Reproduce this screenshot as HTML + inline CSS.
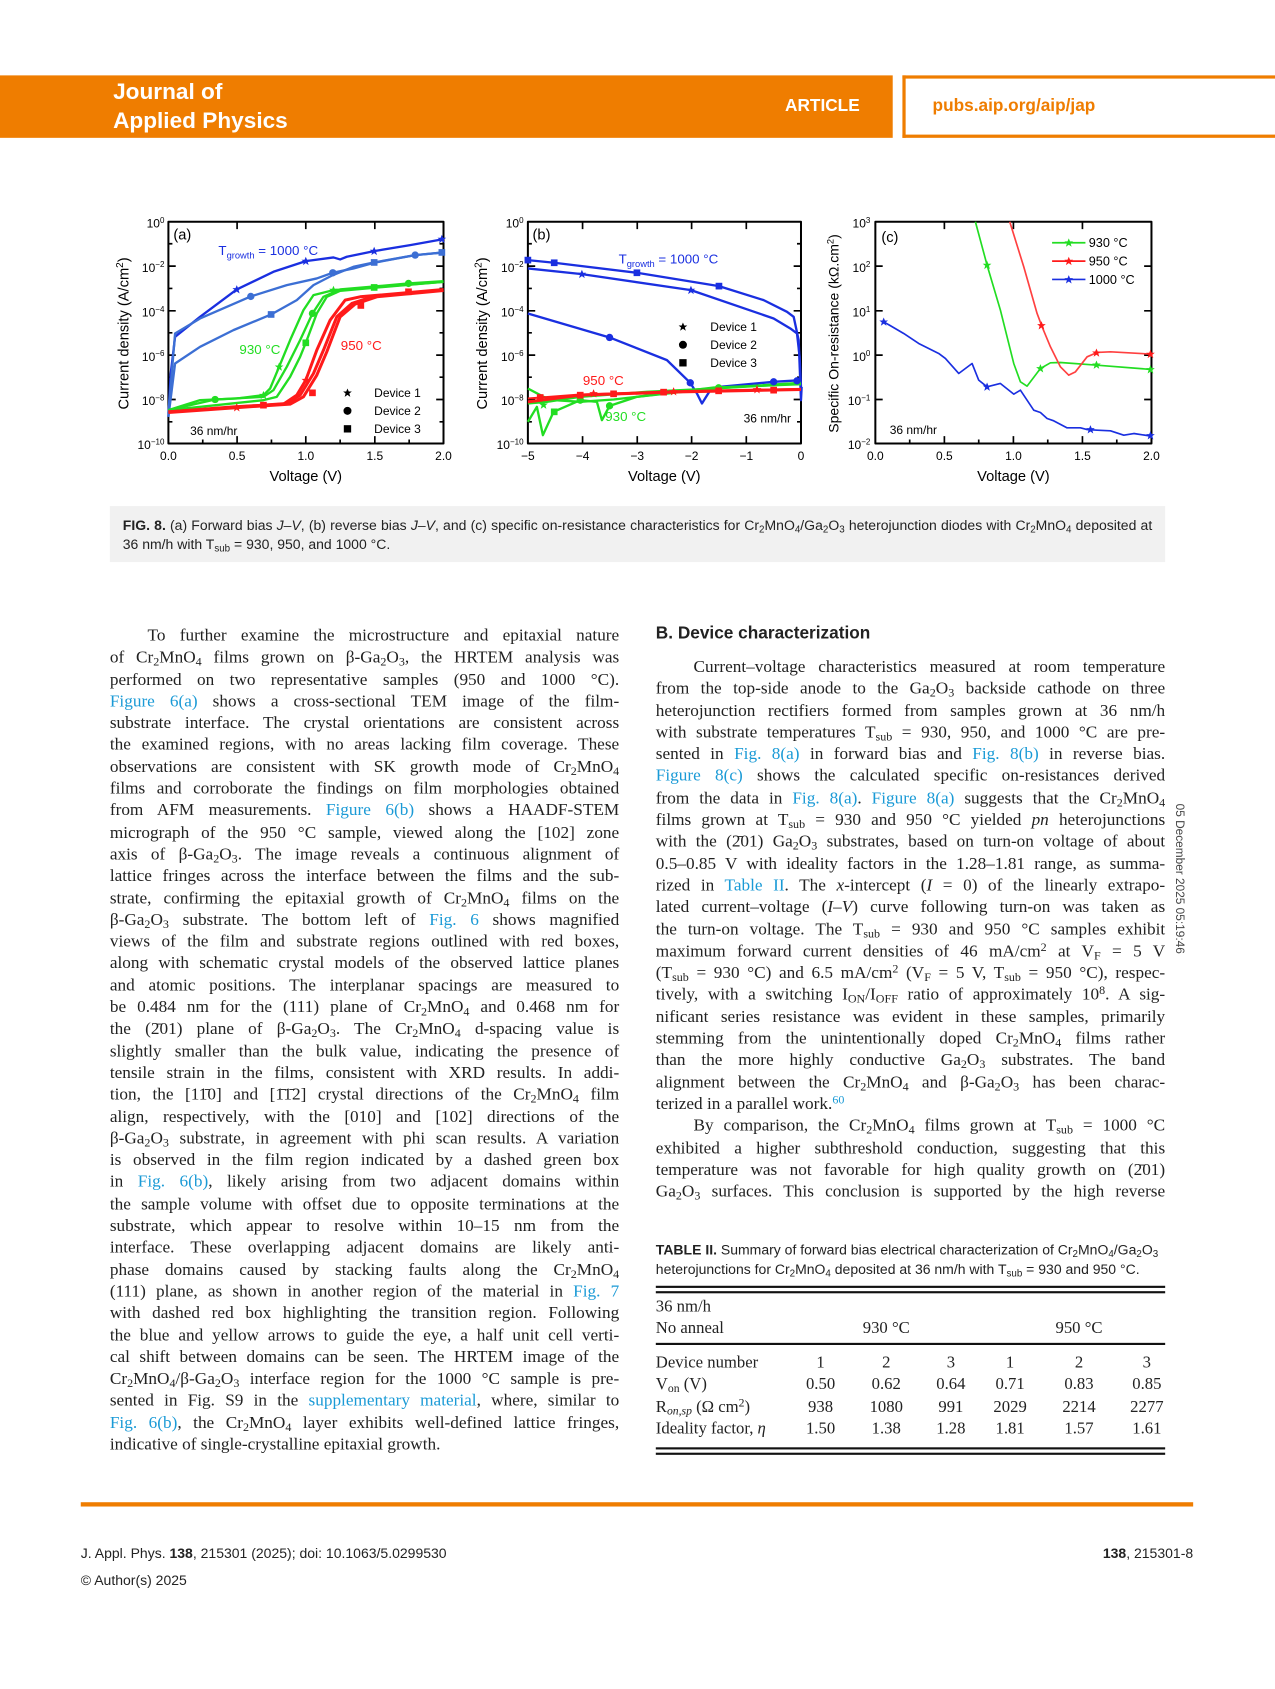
<!DOCTYPE html>
<html><head><meta charset="utf-8">
<style>
html,body{margin:0;padding:0;background:#fff;}
body{width:1275px;height:1688px;overflow:hidden;position:relative;}
#w{position:absolute;left:0;top:0;width:1184px;height:1568px;transform:scale(1.07686);transform-origin:0 0;}
.a{position:absolute;}
.sans{font-family:"Liberation Sans",sans-serif;}
.serif{font-family:"Liberation Serif",serif;}
.col{position:absolute;width:473px;font-family:"Liberation Serif",serif;font-size:16px;line-height:20.3px;color:#222;}
.col div{white-space:nowrap;text-align:justify;text-align-last:justify;height:20.3px;}
.col div.l{text-align-last:left;}
.col div.i{text-indent:35px;}
sub{font-size:70%;vertical-align:-0.25em;line-height:0;}
sup{font-size:70%;vertical-align:0.45em;line-height:0;}
.k{color:#1a9ad6;}
.tb{position:absolute;font-family:"Liberation Serif",serif;font-size:15.5px;color:#222;}
.c{position:absolute;width:60px;text-align:center;}
</style></head><body><div id="w">

<!-- header -->
<div class="a" style="left:0;top:70px;width:829px;height:58px;background:#ef7d00;"></div>
<div class="a sans" style="left:105px;top:72px;color:#fff;font-size:21px;font-weight:bold;line-height:27px;">Journal of<br>Applied Physics</div>
<div class="a sans" style="left:729px;top:90px;color:#fff;font-size:16px;font-weight:bold;">ARTICLE</div>
<div class="a" style="left:838px;top:70px;width:346px;height:52px;border:3px solid #ef7d00;border-right:none;"></div>
<div class="a sans" style="left:866px;top:90px;color:#ef7d00;font-size:16px;font-weight:bold;">pubs.aip.org/aip/jap</div>

<!-- figure -->
<svg class="a" style="left:0;top:0" width="1184" height="470" viewBox="0 0 1184 470" font-family="Liberation Sans, sans-serif">
<defs>
<polygon id="st" points="0,-13 3.8,-4 13,-4 5.6,2 8.5,12 0,6 -8.5,12 -5.6,2 -13,-4 -3.8,-4"/>
</defs>
<g fill="none" stroke-linejoin="round">
<!-- Panel a -->
<g transform="translate(92.9,185.8) scale(0.30967)">
<rect x="205" y="65" width="825" height="665" stroke="#000" stroke-width="6"/>
<g stroke="#000" stroke-width="5">
<path d="M205,198h22M205,332h22M205,465h22M205,598h22M1030,198h-22M1030,332h-22M1030,465h-22M1030,598h-22M205,131h12M205,265h12M205,398h12M205,531h12M205,665h12M1030,131h-12M1030,265h-12M1030,398h-12M1030,531h-12M1030,665h-12M411,730v-22M617,730v-22M824,730v-22M411,65v22M617,65v22M824,65v22M308,730v-12M514,730v-12M720,730v-12M927,730v-12"/>
</g>
<g stroke-width="7">
<polyline stroke="#1a2fe0" points="205,650 212,520 225,410 300,350 410,268 520,215 617,183 700,172 720,178 740,170 822,153 930,135 1030,117"/>
<polyline stroke="#3c6fd4" points="205,640 225,400 300,355 452,289 560,255 650,235 698,218 760,205 822,188 945,165 1030,157"/>
<polyline stroke="#3c6fd4" points="205,650 225,490 300,440 400,390 513,343 590,300 640,255 698,225 760,200 822,187 945,165 1030,157"/>
<polyline stroke="#22dd22" points="205,630 300,600 410,595 490,585 510,565 537,500 570,420 610,330 640,285 700,270 820,262 1030,245"/>
<polyline stroke="#22dd22" points="205,630 345,598 490,590 520,570 560,500 600,420 637,340 670,290 720,268 925,250 1030,243"/>
<polyline stroke="#22dd22" points="205,630 490,600 530,590 570,530 600,470 617,428 650,340 680,290 720,272 1030,245"/>
<polyline stroke="#ff1a1a" stroke-width="9" points="205,635 400,620 550,612 590,585 617,540 650,450 690,360 735,300 780,290 1030,268"/>
<polyline stroke="#ff1a1a" stroke-width="9" points="205,635 490,615 560,610 600,585 640,520 670,450 710,350 755,310 822,288 1030,270"/>
<polyline stroke="#ff1a1a" stroke-width="9" points="205,637 490,617 570,612 610,590 650,525 680,455 720,350 765,312 830,290 1030,271"/>
</g>
<g stroke="none">
<use href="#st" x="410" y="268" fill="#1a2fe0"/><use href="#st" x="617" y="183" fill="#1a2fe0"/><use href="#st" x="822" y="153" fill="#1a2fe0"/><use href="#st" x="1025" y="117" fill="#1a2fe0"/>
<circle cx="452" cy="289" r="11" fill="#3c6fd4"/><circle cx="698" cy="218" r="11" fill="#3c6fd4"/><circle cx="945" cy="165" r="11" fill="#3c6fd4"/>
<rect x="503" y="333" width="20" height="20" fill="#3c6fd4"/><rect x="812" y="177" width="20" height="20" fill="#3c6fd4"/><rect x="1015" y="147" width="20" height="20" fill="#3c6fd4"/>
<use href="#st" x="537" y="500" fill="#22dd22"/><use href="#st" x="490" y="585" fill="#22dd22"/><use href="#st" x="700" y="270" fill="#22dd22"/>
<circle cx="345" cy="598" r="11" fill="#22dd22"/><circle cx="637" cy="340" r="11" fill="#22dd22"/><circle cx="925" cy="250" r="11" fill="#22dd22"/>
<rect x="607" y="418" width="20" height="20" fill="#22dd22"/><rect x="812" y="252" width="20" height="20" fill="#22dd22"/>
<use href="#st" x="617" y="540" fill="#ff1a1a"/><use href="#st" x="410" y="622" fill="#ff1a1a"/>
<rect x="627" y="568" width="20" height="20" fill="#ff1a1a"/><rect x="480" y="605" width="20" height="20" fill="#ff1a1a"/><rect x="772" y="306" width="20" height="20" fill="#ff1a1a"/><rect x="915" y="265" width="20" height="20" fill="#ff1a1a"/>
<use href="#st" x="742" y="578" fill="#000"/><circle cx="742" cy="632" r="12" fill="#000"/><rect x="731" y="675" width="22" height="22" fill="#000"/>
</g>
<g stroke="none" fill="#000" font-size="36">
<text x="193" y="82" text-anchor="end">10<tspan font-size="24" dy="-14">0</tspan></text>
<text x="193" y="215" text-anchor="end">10<tspan font-size="24" dy="-14">−2</tspan></text>
<text x="193" y="349" text-anchor="end">10<tspan font-size="24" dy="-14">−4</tspan></text>
<text x="193" y="482" text-anchor="end">10<tspan font-size="24" dy="-14">−6</tspan></text>
<text x="193" y="615" text-anchor="end">10<tspan font-size="24" dy="-14">−8</tspan></text>
<text x="193" y="747" text-anchor="end">10<tspan font-size="24" dy="-14">−10</tspan></text>
<text x="205" y="780" text-anchor="middle">0.0</text><text x="411" y="780" text-anchor="middle">0.5</text><text x="617" y="780" text-anchor="middle">1.0</text><text x="824" y="780" text-anchor="middle">1.5</text><text x="1030" y="780" text-anchor="middle">2.0</text>
<text x="617" y="842" text-anchor="middle" font-size="44">Voltage (V)</text>
<text transform="translate(85,400) rotate(-90)" text-anchor="middle" font-size="44">Current density (A/cm<tspan font-size="30" dy="-16">2</tspan><tspan dy="16">)</tspan></text>
<text x="220" y="118" font-size="44">(a)</text>
<text x="355" y="165" font-size="40" fill="#1a2fe0">T<tspan font-size="28" dy="10">growth</tspan><tspan dy="-10"> = 1000 °C</tspan></text>
<text x="418" y="462" font-size="40" fill="#22dd22">930 °C</text>
<text x="722" y="450" font-size="40" fill="#ff1a1a">950 °C</text>
<text x="822" y="590" font-size="36">Device 1</text><text x="822" y="644" font-size="36">Device 2</text><text x="822" y="698" font-size="36">Device 3</text>
<text x="270" y="705">36 nm/hr</text>
</g>
</g>

<!-- Panel b -->
<g transform="translate(445.92,185.8) scale(0.30967)">
<rect x="143" y="65" width="819" height="665" stroke="#000" stroke-width="6"/>
<g stroke="#000" stroke-width="5">
<path d="M143,198h22M143,332h22M143,465h22M143,598h22M962,198h-22M962,332h-22M962,465h-22M962,598h-22M143,131h12M143,265h12M143,398h12M143,531h12M143,665h12M962,131h-12M962,265h-12M962,398h-12M962,531h-12M962,665h-12M307,730v-22M471,730v-22M634,730v-22M798,730v-22M307,65v22M471,65v22M634,65v22M798,65v22"/>
</g>
<g stroke-width="7">
<polyline stroke="#1a2fe0" points="143,180 222,188 470,218 716,258 850,300 920,335 940,350 955,420 962,600 964,560"/>
<polyline stroke="#1a2fe0" points="143,205 305,222 632,270 880,355 930,385 950,400 958,470 962,560"/>
<polyline stroke="#1a2fe0" points="143,340 388,412 560,480 630,548 650,580 665,610 690,570 720,560 880,545 962,540"/>
<polyline stroke="#22dd22" points="143,565 190,590 225,600 300,605 400,598 470,590 700,565 962,550"/>
<polyline stroke="#22dd22" points="143,665 170,620 188,705 220,635 300,600 350,605 365,660 388,617 470,590 700,562 962,552"/>
<polyline stroke="#22dd22" points="143,610 200,605 300,590 500,575 700,565 962,548"/>
<polyline stroke="#ff1a1a" stroke-width="9" points="143,605 300,585 600,575 962,568"/>
<polyline stroke="#ff1a1a" stroke-width="6" points="143,595 300,583 600,573 962,566"/>
</g>
<g stroke="none">
<rect x="133" y="170" width="20" height="20" fill="#1a2fe0"/><rect x="212" y="178" width="20" height="20" fill="#1a2fe0"/><rect x="460" y="208" width="20" height="20" fill="#1a2fe0"/><rect x="706" y="248" width="20" height="20" fill="#1a2fe0"/>
<use href="#st" x="305" y="222" fill="#1a2fe0"/><use href="#st" x="632" y="270" fill="#1a2fe0"/>
<circle cx="388" cy="412" r="11" fill="#1a2fe0"/><circle cx="630" cy="548" r="11" fill="#1a2fe0"/><circle cx="880" cy="545" r="11" fill="#1a2fe0"/><circle cx="950" cy="542" r="11" fill="#1a2fe0"/>
<use href="#st" x="190" y="614" fill="#22dd22"/><rect x="212" y="625" width="20" height="20" fill="#22dd22"/><circle cx="300" cy="600" r="11" fill="#22dd22"/><circle cx="388" cy="617" r="11" fill="#22dd22"/><circle cx="715" cy="563" r="11" fill="#22dd22"/>
<rect x="170" y="582" width="20" height="20" fill="#ff1a1a"/><rect x="290" y="575" width="20" height="20" fill="#ff1a1a"/><rect x="390" y="571" width="20" height="20" fill="#ff1a1a"/><rect x="540" y="566" width="20" height="20" fill="#ff1a1a"/><rect x="705" y="562" width="20" height="20" fill="#ff1a1a"/><rect x="870" y="560" width="20" height="20" fill="#ff1a1a"/>
<use href="#st" x="340" y="580" fill="#ff1a1a"/><use href="#st" x="580" y="574" fill="#ff1a1a"/><use href="#st" x="830" y="568" fill="#ff1a1a"/>
<use href="#st" x="608" y="380" fill="#000"/><circle cx="608" cy="434" r="12" fill="#000"/><rect x="597" y="477" width="22" height="22" fill="#000"/>
</g>
<g stroke="none" fill="#000" font-size="36">
<text x="130" y="82" text-anchor="end">10<tspan font-size="24" dy="-14">0</tspan></text>
<text x="130" y="215" text-anchor="end">10<tspan font-size="24" dy="-14">−2</tspan></text>
<text x="130" y="349" text-anchor="end">10<tspan font-size="24" dy="-14">−4</tspan></text>
<text x="130" y="482" text-anchor="end">10<tspan font-size="24" dy="-14">−6</tspan></text>
<text x="130" y="615" text-anchor="end">10<tspan font-size="24" dy="-14">−8</tspan></text>
<text x="130" y="747" text-anchor="end">10<tspan font-size="24" dy="-14">−10</tspan></text>
<text x="143" y="780" text-anchor="middle">−5</text><text x="307" y="780" text-anchor="middle">−4</text><text x="471" y="780" text-anchor="middle">−3</text><text x="634" y="780" text-anchor="middle">−2</text><text x="798" y="780" text-anchor="middle">−1</text><text x="962" y="780" text-anchor="middle">0</text>
<text x="552" y="842" text-anchor="middle" font-size="44">Voltage (V)</text>
<text transform="translate(20,400) rotate(-90)" text-anchor="middle" font-size="44">Current density (A/cm<tspan font-size="30" dy="-16">2</tspan><tspan dy="16">)</tspan></text>
<text x="157" y="118" font-size="44">(b)</text>
<text x="415" y="190" font-size="40" fill="#1a2fe0">T<tspan font-size="28" dy="10">growth</tspan><tspan dy="-10"> = 1000 °C</tspan></text>
<text x="308" y="555" font-size="40" fill="#ff1a1a">950 °C</text>
<text x="375" y="662" font-size="40" fill="#22dd22">930 °C</text>
<text x="690" y="392">Device 1</text><text x="690" y="446">Device 2</text><text x="690" y="500">Device 3</text>
<text x="790" y="667">36 nm/hr</text>
</g>
</g>

<!-- Panel c -->
<g transform="translate(761.78,185.8) scale(0.30967)">
<rect x="165" y="65" width="828" height="665" stroke="#000" stroke-width="6"/>
<g stroke="#000" stroke-width="5">
<path d="M165,198h22M165,332h22M165,465h22M165,598h22M993,198h-22M993,332h-22M993,465h-22M993,598h-22M372,730v-22M579,730v-22M786,730v-22M372,65v22M579,65v22M786,65v22M268,730v-12M475,730v-12M682,730v-12M889,730v-12"/>
</g>
<g stroke-width="5">
<polyline stroke="#1a2fe0" points="190,365 250,400 295,430 355,460 375,475 415,520 455,490 475,540 500,560 540,550 580,582 600,570 640,630 660,637 680,655 700,662 740,683 780,683 800,688 830,690 870,692 910,705 940,700 993,708"/>
<polyline stroke="#22dd22" points="465,65 500,195 540,330 580,490 600,545 620,558 660,505 690,488 720,487 830,495 993,508"/>
<polyline stroke="#ff4040" points="568,65 610,200 650,340 665,380 690,440 720,500 745,525 765,515 800,470 830,457 870,455 993,462"/>
<path d="M695,128h100" stroke="#22dd22"/><path d="M695,183h100" stroke="#ff1a1a"/><path d="M695,238h100" stroke="#1a2fe0"/>
</g>
<g stroke="none">
<use href="#st" x="745" y="128" fill="#22dd22"/><use href="#st" x="745" y="183" fill="#ff1a1a"/><use href="#st" x="745" y="238" fill="#1a2fe0"/>
<use href="#st" x="190" y="365" fill="#1a2fe0"/><use href="#st" x="500" y="560" fill="#1a2fe0"/><use href="#st" x="810" y="688" fill="#1a2fe0"/><use href="#st" x="990" y="706" fill="#1a2fe0"/>
<use href="#st" x="500" y="195" fill="#22dd22"/><use href="#st" x="660" y="505" fill="#22dd22"/><use href="#st" x="828" y="494" fill="#22dd22"/><use href="#st" x="990" y="508" fill="#22dd22"/>
<use href="#st" x="663" y="376" fill="#ff1a1a"/><use href="#st" x="828" y="458" fill="#ff1a1a"/><use href="#st" x="990" y="462" fill="#ff1a1a"/>
</g>
<g stroke="none" fill="#000" font-size="36">
<text x="150" y="82" text-anchor="end">10<tspan font-size="24" dy="-14">3</tspan></text>
<text x="150" y="215" text-anchor="end">10<tspan font-size="24" dy="-14">2</tspan></text>
<text x="150" y="349" text-anchor="end">10<tspan font-size="24" dy="-14">1</tspan></text>
<text x="150" y="482" text-anchor="end">10<tspan font-size="24" dy="-14">0</tspan></text>
<text x="150" y="615" text-anchor="end">10<tspan font-size="24" dy="-14">−1</tspan></text>
<text x="150" y="747" text-anchor="end">10<tspan font-size="24" dy="-14">−2</tspan></text>
<text x="165" y="780" text-anchor="middle">0.0</text><text x="372" y="780" text-anchor="middle">0.5</text><text x="579" y="780" text-anchor="middle">1.0</text><text x="786" y="780" text-anchor="middle">1.5</text><text x="993" y="780" text-anchor="middle">2.0</text>
<text x="579" y="842" text-anchor="middle" font-size="44">Voltage (V)</text>
<text transform="translate(55,400) rotate(-90)" text-anchor="middle" font-size="42">Specific On-resistance (kΩ.cm<tspan font-size="28" dy="-16">2</tspan><tspan dy="16">)</tspan></text>
<text x="183" y="125" font-size="44">(c)</text>
<text x="805" y="141" font-size="38">930 °C</text><text x="805" y="196" font-size="38">950 °C</text><text x="805" y="251" font-size="38">1000 °C</text>
<text x="208" y="702">36 nm/hr</text>
</g>
</g>
</g>
</svg>

<!-- caption -->
<div class="a" style="left:102px;top:470px;width:980px;height:52px;background:#f1f1f1;"></div>
<div class="a sans" style="left:114px;top:479px;width:956px;font-size:13px;line-height:18px;color:#222;text-align:justify;text-align-last:justify;white-space:nowrap;"><b>FIG. 8.</b> (a) Forward bias <i>J–V</i>, (b) reverse bias <i>J–V</i>, and (c) specific on-resistance characteristics for Cr<sub>2</sub>MnO<sub>4</sub>/Ga<sub>2</sub>O<sub>3</sub> heterojunction diodes with Cr<sub>2</sub>MnO<sub>4</sub> deposited at</div>
<div class="a sans" style="left:114px;top:497px;font-size:13px;line-height:18px;color:#222;">36 nm/h with T<sub>sub</sub> = 930, 950, and 1000 °C.</div>

<!-- left column -->
<div class="col" style="left:102px;top:581px;">
<div class="i">To further examine the microstructure and epitaxial nature</div>
<div>of Cr<sub>2</sub>MnO<sub>4</sub> films grown on β-Ga<sub>2</sub>O<sub>3</sub>, the HRTEM analysis was</div>
<div>performed on two representative samples (950 and 1000 °C).</div>
<div><span class="k">Figure 6(a)</span> shows a cross-sectional TEM image of the film-</div>
<div>substrate interface. The crystal orientations are consistent across</div>
<div>the examined regions, with no areas lacking film coverage. These</div>
<div>observations are consistent with SK growth mode of Cr<sub>2</sub>MnO<sub>4</sub></div>
<div>films and corroborate the findings on film morphologies obtained</div>
<div>from AFM measurements. <span class="k">Figure 6(b)</span> shows a HAADF-STEM</div>
<div>micrograph of the 950 °C sample, viewed along the [102] zone</div>
<div>axis of β-Ga<sub>2</sub>O<sub>3</sub>. The image reveals a continuous alignment of</div>
<div>lattice fringes across the interface between the films and the sub-</div>
<div>strate, confirming the epitaxial growth of Cr<sub>2</sub>MnO<sub>4</sub> films on the</div>
<div>β-Ga<sub>2</sub>O<sub>3</sub> substrate. The bottom left of <span class="k">Fig. 6</span> shows magnified</div>
<div>views of the film and substrate regions outlined with red boxes,</div>
<div>along with schematic crystal models of the observed lattice planes</div>
<div>and atomic positions. The interplanar spacings are measured to</div>
<div>be 0.484 nm for the (111) plane of Cr<sub>2</sub>MnO<sub>4</sub> and 0.468 nm for</div>
<div>the (2̄01) plane of β-Ga<sub>2</sub>O<sub>3</sub>. The Cr<sub>2</sub>MnO<sub>4</sub> d-spacing value is</div>
<div>slightly smaller than the bulk value, indicating the presence of</div>
<div>tensile strain in the films, consistent with XRD results. In addi-</div>
<div>tion, the [11̄0] and [1̄1̄2] crystal directions of the Cr<sub>2</sub>MnO<sub>4</sub> film</div>
<div>align, respectively, with the [010] and [102] directions of the</div>
<div>β-Ga<sub>2</sub>O<sub>3</sub> substrate, in agreement with phi scan results. A variation</div>
<div>is observed in the film region indicated by a dashed green box</div>
<div>in <span class="k">Fig. 6(b)</span>, likely arising from two adjacent domains within</div>
<div>the sample volume with offset due to opposite terminations at the</div>
<div>substrate, which appear to resolve within 10–15 nm from the</div>
<div>interface. These overlapping adjacent domains are likely anti-</div>
<div>phase domains caused by stacking faults along the Cr<sub>2</sub>MnO<sub>4</sub></div>
<div>(111) plane, as shown in another region of the material in <span class="k">Fig. 7</span></div>
<div>with dashed red box highlighting the transition region. Following</div>
<div>the blue and yellow arrows to guide the eye, a half unit cell verti-</div>
<div>cal shift between domains can be seen. The HRTEM image of the</div>
<div>Cr<sub>2</sub>MnO<sub>4</sub>/β-Ga<sub>2</sub>O<sub>3</sub> interface region for the 1000 °C sample is pre-</div>
<div>sented in Fig. S9 in the <span class="k">supplementary material</span>, where, similar to</div>
<div><span class="k">Fig. 6(b)</span>, the Cr<sub>2</sub>MnO<sub>4</sub> layer exhibits well-defined lattice fringes,</div>
<div class="l">indicative of single-crystalline epitaxial growth.</div>
</div>

<!-- right column -->
<div class="a sans" style="left:609px;top:580px;font-size:16px;font-weight:bold;color:#222;">B. Device characterization</div>
<div class="col" style="left:609px;top:610px;">
<div class="i">Current–voltage characteristics measured at room temperature</div>
<div>from the top-side anode to the Ga<sub>2</sub>O<sub>3</sub> backside cathode on three</div>
<div>heterojunction rectifiers formed from samples grown at 36 nm/h</div>
<div>with substrate temperatures T<sub>sub</sub> = 930, 950, and 1000 °C are pre-</div>
<div>sented in <span class="k">Fig. 8(a)</span> in forward bias and <span class="k">Fig. 8(b)</span> in reverse bias.</div>
<div><span class="k">Figure 8(c)</span> shows the calculated specific on-resistances derived</div>
<div>from the data in <span class="k">Fig. 8(a)</span>. <span class="k">Figure 8(a)</span> suggests that the Cr<sub>2</sub>MnO<sub>4</sub></div>
<div>films grown at T<sub>sub</sub> = 930 and 950 °C yielded <i>pn</i> heterojunctions</div>
<div>with the (2̄01) Ga<sub>2</sub>O<sub>3</sub> substrates, based on turn-on voltage of about</div>
<div>0.5–0.85 V with ideality factors in the 1.28–1.81 range, as summa-</div>
<div>rized in <span class="k">Table II</span>. The <i>x</i>-intercept (<i>I</i> = 0) of the linearly extrapo-</div>
<div>lated current–voltage (<i>I–V</i>) curve following turn-on was taken as</div>
<div>the turn-on voltage. The T<sub>sub</sub> = 930 and 950 °C samples exhibit</div>
<div>maximum forward current densities of 46 mA/cm<sup>2</sup> at V<sub>F</sub> = 5 V</div>
<div>(T<sub>sub</sub> = 930 °C) and 6.5 mA/cm<sup>2</sup> (V<sub>F</sub> = 5 V, T<sub>sub</sub> = 950 °C), respec-</div>
<div>tively, with a switching I<sub>ON</sub>/I<sub>OFF</sub> ratio of approximately 10<sup>8</sup>. A sig-</div>
<div>nificant series resistance was evident in these samples, primarily</div>
<div>stemming from the unintentionally doped Cr<sub>2</sub>MnO<sub>4</sub> films rather</div>
<div>than the more highly conductive Ga<sub>2</sub>O<sub>3</sub> substrates. The band</div>
<div>alignment between the Cr<sub>2</sub>MnO<sub>4</sub> and β-Ga<sub>2</sub>O<sub>3</sub> has been charac-</div>
<div class="l">terized in a parallel work.<sup class="k">60</sup></div>
<div class="i">By comparison, the Cr<sub>2</sub>MnO<sub>4</sub> films grown at T<sub>sub</sub> = 1000 °C</div>
<div>exhibited a higher subthreshold conduction, suggesting that this</div>
<div>temperature was not favorable for high quality growth on (2̄01)</div>
<div>Ga<sub>2</sub>O<sub>3</sub> surfaces. This conclusion is supported by the high reverse</div>
</div>

<!-- side stamp -->
<div class="a sans" style="left:1020px;top:810px;width:150px;font-size:11px;color:#444;transform:rotate(90deg);text-align:center;">05 December 2025 05:19:46</div>

<!-- table -->
<div class="a sans" style="left:609px;top:1152px;font-size:13px;line-height:18px;color:#222;width:473px;"><b>TABLE II.</b> Summary of forward bias electrical characterization of Cr<sub>2</sub>MnO<sub>4</sub>/Ga<sub>2</sub>O<sub>3</sub><br>heterojunctions for Cr<sub>2</sub>MnO<sub>4</sub> deposited at 36 nm/h with T<sub>sub</sub> = 930 and 950 °C.</div>
<div class="a" style="left:609px;top:1194px;width:473px;height:2px;background:#111;"></div>
<div class="a" style="left:609px;top:1199px;width:473px;height:2px;background:#111;"></div>
<div class="tb" style="left:609px;top:1205px;">36 nm/h</div>
<div class="tb" style="left:609px;top:1225px;">No anneal</div>
<div class="tb c" style="left:793px;top:1225px;">930 °C</div>
<div class="tb c" style="left:972px;top:1225px;">950 °C</div>
<div class="a" style="left:609px;top:1247px;width:473px;height:1.5px;background:#111;"></div>
<div class="tb" style="left:609px;top:1256px;line-height:20.3px;">Device number<br>V<sub>on</sub> (V)<br>R<sub><i>on,sp</i></sub> (Ω cm<sup>2</sup>)<br>Ideality factor, <i>η</i></div>
<div class="tb c" style="left:732px;top:1256px;line-height:20.3px;">1<br>0.50<br>938<br>1.50</div>
<div class="tb c" style="left:793px;top:1256px;line-height:20.3px;">2<br>0.62<br>1080<br>1.38</div>
<div class="tb c" style="left:853px;top:1256px;line-height:20.3px;">3<br>0.64<br>991<br>1.28</div>
<div class="tb c" style="left:908px;top:1256px;line-height:20.3px;">1<br>0.71<br>2029<br>1.81</div>
<div class="tb c" style="left:972px;top:1256px;line-height:20.3px;">2<br>0.83<br>2214<br>1.57</div>
<div class="tb c" style="left:1035px;top:1256px;line-height:20.3px;">3<br>0.85<br>2277<br>1.61</div>
<div class="a" style="left:609px;top:1344px;width:473px;height:2px;background:#111;"></div>
<div class="a" style="left:609px;top:1349px;width:473px;height:2px;background:#111;"></div>

<!-- footer -->
<div class="a" style="left:75px;top:1395px;width:1033px;height:4px;background:#ef7d00;"></div>
<div class="a sans" style="left:75px;top:1435px;font-size:13px;color:#222;">J. Appl. Phys. <b>138</b>, 215301 (2025); doi: 10.1063/5.0299530</div>
<div class="a sans" style="left:75px;top:1460px;font-size:13px;color:#222;">© Author(s) 2025</div>
<div class="a sans" style="left:908px;top:1435px;width:200px;text-align:right;font-size:13px;color:#222;"><b>138</b>, 215301-8</div>

</div></body></html>
